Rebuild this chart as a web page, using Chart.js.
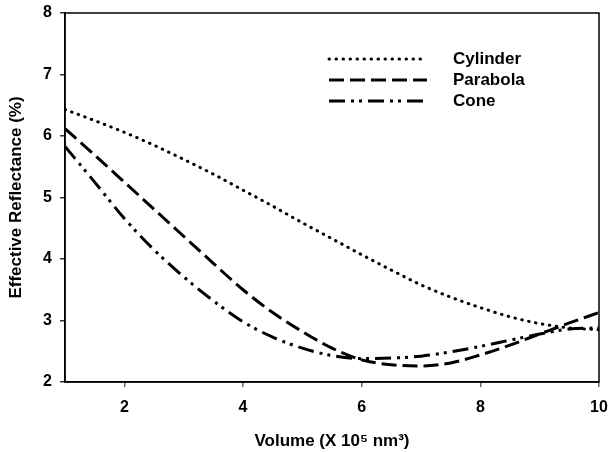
<!DOCTYPE html>
<html>
<head>
<meta charset="utf-8">
<script src="https://cdn.jsdelivr.net/npm/chart.js@4/dist/chart.umd.min.js"></script>
<style>
  html, body { margin: 0; padding: 0; background: #fff; }
  #wrap { width: 610px; height: 452px; }
</style>
</head>
<body>
<div id="wrap"><canvas id="reflectanceChart"></canvas></div>
<script>
// values
const volume = [1, 1.5, 2, 2.5, 3, 3.5, 4, 4.5, 5, 5.5, 6, 6.5, 7, 7.5, 8, 8.5, 9, 9.5, 10];
const cylinder = [6.43, 6.25, 6.06, 5.85, 5.62, 5.38, 5.12, 4.86, 4.59, 4.33, 4.07, 3.82, 3.58, 3.38, 3.21, 3.06, 2.95, 2.88, 2.85];
const parabola = [6.12, 5.69, 5.25, 4.81, 4.37, 3.93, 3.50, 3.13, 2.82, 2.55, 2.36, 2.28, 2.26, 2.31, 2.44, 2.60, 2.78, 2.96, 3.13];
const cone = [5.83, 5.25, 4.66, 4.15, 3.71, 3.32, 2.98, 2.73, 2.55, 2.43, 2.38, 2.39, 2.42, 2.49, 2.58, 2.68, 2.78, 2.86, 2.88];
const xTicks = [2, 4, 6, 8, 10];
const yTicks = [2, 3, 4, 5, 6, 7, 8];

const FONT = "'Liberation Sans', Arial, sans-serif";

function toPoints(ys) {
    return volume.map((x, i) => ({ x: x, y: ys[i] }));
}

// frame around the plot area (top and right sides)
const framePlugin = {
    id: 'frame',
    beforeDatasetsDraw(chart) {
        const { ctx, chartArea: a } = chart;
        ctx.save();
        ctx.strokeStyle = '#000';
        ctx.lineWidth = 1.5;
        ctx.strokeRect(a.left, a.top, a.right - a.left, a.bottom - a.top);
        ctx.restore();
    }
};

// legend inside the plot, line samples + labels
const insideLegend = {
    id: 'insideLegend',
    afterDatasetsDraw(chart) {
        const ctx = chart.ctx;
        const x0 = 329, x1 = 427, tx = 453;
        ctx.save();
        chart.data.datasets.forEach((ds, i) => {
            const y = 59 + i * 21;
            ctx.beginPath();
            ctx.strokeStyle = ds.borderColor;
            ctx.lineWidth = ds.borderWidth;
            ctx.lineCap = ds.borderCapStyle || 'butt';
            ctx.setLineDash(ds.borderDash || []);
            ctx.moveTo(x0, y);
            ctx.lineTo(x1, y);
            ctx.stroke();
            ctx.setLineDash([]);
            ctx.fillStyle = '#000';
            ctx.font = 'bold 17px ' + FONT;
            ctx.textBaseline = 'middle';
            ctx.textAlign = 'left';
            ctx.fillText(ds.label, tx, y);
        });
        ctx.restore();
    }
};

const ctx = document.getElementById('reflectanceChart').getContext('2d');

new Chart(ctx, {
    type: 'line',
    data: {
        datasets: [
            {
                label: 'Cylinder',
                data: toPoints(cylinder),
                borderColor: '#000',
                borderWidth: 3,
                borderDash: [0.5, 6.5],
                borderCapStyle: 'round'
            },
            {
                label: 'Parabola',
                data: toPoints(parabola),
                borderColor: '#000',
                borderWidth: 3,
                borderDash: [15, 6]
            },
            {
                label: 'Cone',
                data: toPoints(cone),
                borderColor: '#000',
                borderWidth: 3,
                borderDash: [16, 6, 3, 5, 3, 6]
            }
        ]
    },
    options: {
        responsive: true,
        maintainAspectRatio: false,
        animation: false,
        layout: { padding: { left: 0, right: 11, top: 13, bottom: 0 } },
        elements: {
            point: { radius: 0 },
            line: { cubicInterpolationMode: 'monotone', fill: false }
        },
        plugins: {
            legend: { display: false },
            tooltip: { enabled: false }
        },
        scales: {
            x: {
                type: 'linear',
                min: 1,
                max: 10,
                afterFit: s => {
                    s.height = 70;
                    s.paddingLeft = 0;
                    s.paddingRight = 0;
                },
                afterBuildTicks: s => { s.ticks = xTicks.map(v => ({ value: v })); },
                grid: {
                    drawOnChartArea: false,
                    drawTicks: true,
                    tickLength: 5,
                    color: '#666',
                    lineWidth: 1.5
                },
                border: { display: true, color: '#000', width: 1.5 },
                ticks: {
                    color: '#000',
                    padding: 11,
                    maxRotation: 0,
                    font: { family: FONT, size: 16, weight: 'bold' }
                },
                title: {
                    display: true,
                    text: 'Volume (X 10\u2075 nm\u00B3)',
                    color: '#000',
                    padding: { top: 0, bottom: 0 },
                    font: { family: FONT, size: 17, weight: 'bold' }
                }
            },
            y: {
                min: 2,
                max: 8,
                afterFit: s => {
                    s.width = 65;
                    s.paddingTop = 0;
                    s.paddingBottom = 0;
                },
                afterBuildTicks: s => { s.ticks = yTicks.map(v => ({ value: v })); },
                grid: {
                    drawOnChartArea: false,
                    drawTicks: true,
                    tickLength: 5,
                    color: '#333',
                    lineWidth: 1.5
                },
                border: { display: true, color: '#000', width: 1.5 },
                ticks: {
                    color: '#000',
                    padding: 8,
                    font: { family: FONT, size: 16, weight: 'bold' }
                },
                title: {
                    display: true,
                    text: 'Effective Reflectance (%)',
                    color: '#000',
                    padding: { top: 6, bottom: 0 },
                    font: { family: FONT, size: 17, weight: 'bold' }
                }
            }
        }
    },
    plugins: [framePlugin, insideLegend]
});
</script>
</body>
</html>
